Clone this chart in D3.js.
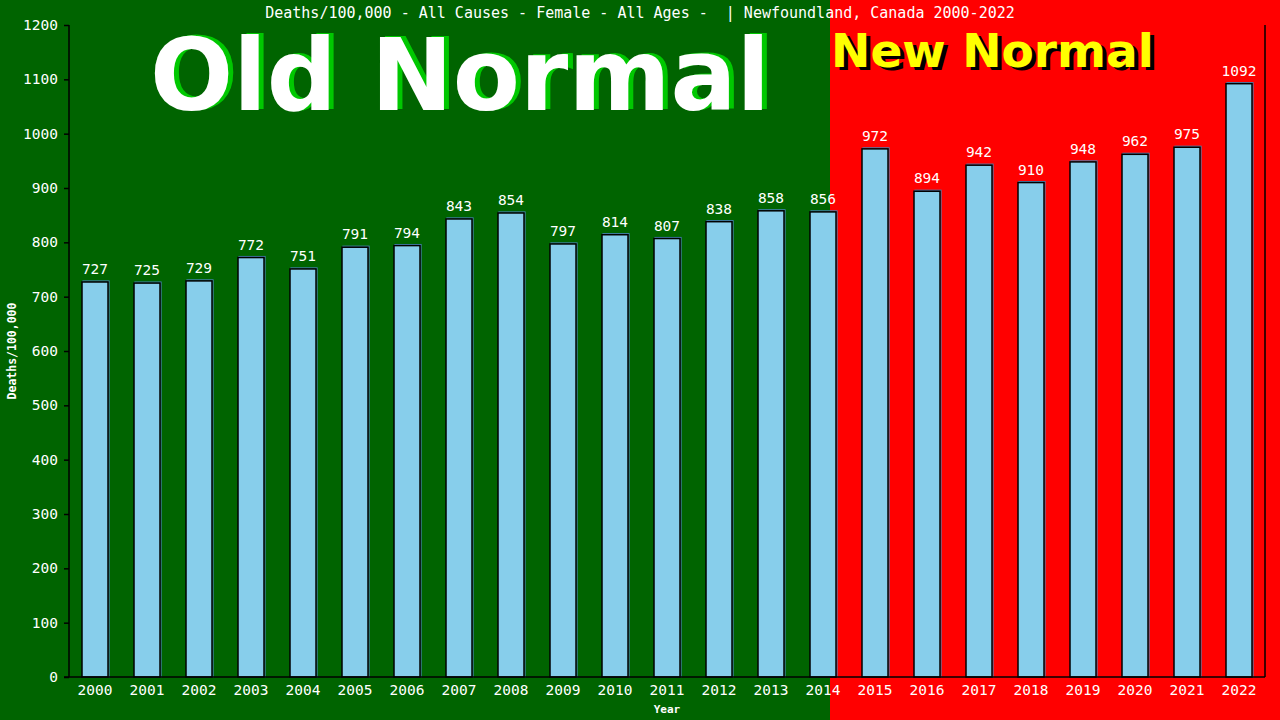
<!DOCTYPE html>
<html>
<head>
<meta charset="utf-8">
<script src="https://cdn.jsdelivr.net/npm/d3@7"></script>
<style>
  body { margin: 0; background: #006400; }
  svg { display: block; }
</style>
</head>
<body>
<svg id="chart" width="1280" height="720"></svg>
<script>
// data
var years = ["2000","2001","2002","2003","2004","2005","2006","2007","2008","2009","2010","2011",
  "2012","2013","2014","2015","2016","2017","2018","2019","2020","2021","2022"];
var deaths = [727,725,729,772,751,791,794,843,854,797,814,807,838,858,856,972,894,942,910,948,962,975,1092];
var yTicks = [0,100,200,300,400,500,600,700,800,900,1000,1100,1200];
var title = "Deaths/100,000 - All Causes - Female - All Ages -  | Newfoundland, Canada 2000-2022";

var svg = d3.select("#chart");
var mono = "'DejaVu Sans Mono', monospace";

// plot area (window.top is reserved, so use other names)
var plotLeft = 69, plotRight = 1265, plotTop = 25, plotBottom = 677;

var x = d3.scaleBand()
  .domain(years)
  .range([plotLeft, plotRight])
  .paddingInner(0.5)
  .paddingOuter(0.25);

var y = d3.scaleLinear()
  .domain([0, 1200])
  .range([plotBottom, plotTop]);

// backgrounds: old normal (green) / new normal (red)
var split = 830;
svg.append("rect").attr("x", 0).attr("y", 0).attr("width", split).attr("height", 720).attr("fill", "#006400");
svg.append("rect").attr("x", split).attr("y", 0).attr("width", 1280 - split).attr("height", 720).attr("fill", "#ff0000");

// big labels
svg.append("text")
  .attr("x", 155).attr("y", 109)
  .attr("textLength", 620).attr("lengthAdjust", "spacingAndGlyphs")
  .attr("font-family", "'DejaVu Sans', sans-serif").attr("font-weight", "bold")
  .attr("font-size", 100).attr("fill", "#00c800")
  .text("Old Normal");
svg.append("text")
  .attr("x", 150).attr("y", 110)
  .attr("textLength", 620).attr("lengthAdjust", "spacingAndGlyphs")
  .attr("font-family", "'DejaVu Sans', sans-serif").attr("font-weight", "bold")
  .attr("font-size", 100).attr("fill", "#ffffff")
  .text("Old Normal");

svg.append("text")
  .attr("x", 835).attr("y", 69.5)
  .attr("textLength", 323).attr("lengthAdjust", "spacingAndGlyphs")
  .attr("font-family", "'DejaVu Sans', sans-serif").attr("font-weight", "bold")
  .attr("font-size", 46).attr("fill", "#000000")
  .text("New Normal");
svg.append("text")
  .attr("x", 831).attr("y", 66.5)
  .attr("textLength", 323).attr("lengthAdjust", "spacingAndGlyphs")
  .attr("font-family", "'DejaVu Sans', sans-serif").attr("font-weight", "bold")
  .attr("font-size", 46).attr("fill", "#ffff00")
  .text("New Normal");

// title
svg.append("text")
  .attr("x", 640).attr("y", 18)
  .attr("text-anchor", "middle")
  .attr("font-family", mono).attr("font-size", 15)
  .attr("fill", "#ffffff")
  .attr("xml:space", "preserve")
  .text(title);

// bars
var bars = svg.append("g").selectAll("g")
  .data(years.map(function (d, i) { return { year: d, value: deaths[i] }; }))
  .join("g");

bars.append("rect")
  .attr("x", function (d) { return x(d.year) + 1; })
  .attr("y", function (d) { return y(d.value) - 1; })
  .attr("width", x.bandwidth())
  .attr("height", function (d) { return plotBottom - y(d.value) + 1; })
  .attr("fill", "none")
  .attr("stroke", "#4682b4")
  .attr("stroke-width", 1.2);

bars.append("rect")
  .attr("x", function (d) { return x(d.year); })
  .attr("y", function (d) { return y(d.value); })
  .attr("width", x.bandwidth())
  .attr("height", function (d) { return plotBottom - y(d.value); })
  .attr("fill", "#87ceeb")
  .attr("stroke", "#000000")
  .attr("stroke-width", 1.5);

bars.append("text")
  .attr("x", function (d) { return x(d.year) + x.bandwidth() / 2; })
  .attr("y", function (d) { return y(d.value) - 8; })
  .attr("text-anchor", "middle")
  .attr("font-family", mono).attr("font-size", 14.5)
  .attr("fill", "#ffffff")
  .text(function (d) { return d.value; });

// axes
var axisColor = "#000000";
svg.append("line").attr("x1", plotLeft).attr("x2", plotLeft).attr("y1", plotTop).attr("y2", plotBottom)
  .attr("stroke", axisColor).attr("stroke-width", 1.5);
svg.append("line").attr("x1", plotRight).attr("x2", plotRight).attr("y1", plotTop).attr("y2", plotBottom)
  .attr("stroke", axisColor).attr("stroke-width", 1.5);
svg.append("line").attr("x1", plotLeft - 5).attr("x2", plotRight).attr("y1", plotBottom).attr("y2", plotBottom)
  .attr("stroke", axisColor).attr("stroke-width", 1.5);

var yAxis = svg.append("g")
  .attr("transform", "translate(" + plotLeft + ",0)")
  .call(d3.axisLeft(y).tickValues(yTicks).tickSize(5).tickPadding(6).tickFormat(d3.format("d")));
yAxis.select(".domain").remove();
yAxis.selectAll(".tick line").attr("stroke", axisColor).attr("stroke-width", 1.5);
yAxis.selectAll(".tick text").attr("fill", "#ffffff").attr("font-family", mono).attr("font-size", 14.5);

var xAxis = svg.append("g")
  .attr("transform", "translate(0," + plotBottom + ")")
  .call(d3.axisBottom(x).tickSize(0).tickPadding(8));
xAxis.select(".domain").remove();
xAxis.selectAll(".tick text").attr("fill", "#ffffff").attr("font-family", mono).attr("font-size", 14.5)
  .attr("dy", "0.71em");

// axis titles
svg.append("text")
  .attr("x", (plotLeft + plotRight) / 2).attr("y", 713)
  .attr("text-anchor", "middle")
  .attr("font-family", mono).attr("font-weight", "bold").attr("font-size", 11)
  .attr("fill", "#ffffff")
  .text("Year");

svg.append("text")
  .attr("transform", "translate(16," + ((plotTop + plotBottom) / 2) + ") rotate(-90)")
  .attr("text-anchor", "middle")
  .attr("font-family", mono).attr("font-weight", "bold").attr("font-size", 11.5)
  .attr("fill", "#ffffff")
  .text("Deaths/100,000");
</script>
</body>
</html>
